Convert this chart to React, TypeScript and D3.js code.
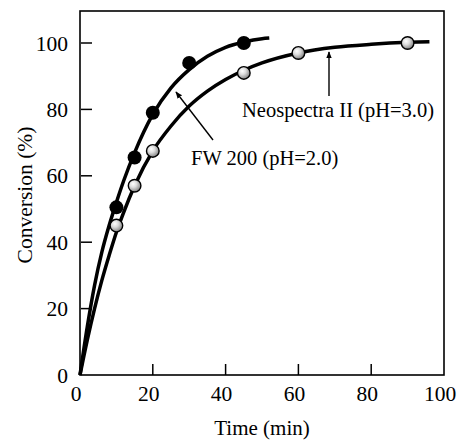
import React from "react";
import * as d3 from "d3";

const fwTime = [10, 15, 20, 30, 45];
const fwConv = [50.5, 65.5, 79, 94, 100];
const neoTime = [10, 15, 20, 45, 60, 90];
const neoConv = [45, 57, 67.5, 91, 97, 100];

// fitted curves
const fwCurveT = [0, 2, 4, 6, 8, 10, 12, 15, 20, 25, 30, 35, 40, 45, 50, 52];
const fwCurveY = [0, 14.5, 27, 37, 45, 52, 58.5, 67, 78.5, 86.5, 92, 96, 98.7, 100.3, 101.3, 101.5];
const neoCurveT = [0, 2, 4, 6, 8, 10, 12, 15, 20, 25, 30, 35, 40, 45, 50, 60, 70, 80, 90, 96];
const neoCurveY = [0, 10.5, 20, 28.5, 36, 43, 49, 57, 67.5, 75, 81, 85.5, 89, 91.8, 94, 97, 98.7, 99.6, 100.2, 100.4];

const xTicks = [0, 20, 40, 60, 80, 100];
const yTicks = [0, 20, 40, 60, 80, 100];

const FONT = "'Liberation Serif', 'Times New Roman', serif";

export default function App() {
  const x = d3.scaleLinear().domain([0, 100]).range([80, 444]);
  const y = d3.scaleLinear().domain([0, 100]).range([375, 43]);
  const top = 11;

  const line = d3
    .line<[number, number]>()
    .x((d) => x(d[0]))
    .y((d) => y(d[1]))
    .curve(d3.curveMonotoneX);

  const fwLine = line(fwCurveT.map((t, i) => [t, fwCurveY[i]]) as [number, number][]) || "";
  const neoLine = line(neoCurveT.map((t, i) => [t, neoCurveY[i]]) as [number, number][]) || "";

  return (
    <svg
      width={460}
      height={442}
      style={{ position: "absolute", left: 0, top: 0, background: "#fff" }}
      fontFamily={FONT}
    >
      <defs>
        <radialGradient id="hatch" cx="38%" cy="35%" r="70%">
          <stop offset="0%" stopColor="#ffffff" />
          <stop offset="40%" stopColor="#dcdcdc" />
          <stop offset="100%" stopColor="#7a7a7a" />
        </radialGradient>
        <marker id="arrow" viewBox="0 0 10 10" refX="9" refY="5" markerWidth="7" markerHeight="10" orient="auto" markerUnits="userSpaceOnUse">
          <path d="M0,1 L10,5 L0,9 z" fill="#000" />
        </marker>
      </defs>

      {/* frame */}
      <rect x={x(0)} y={top} width={x(100) - x(0)} height={y(0) - top} fill="none" stroke="#000" strokeWidth={1.6} />

      {/* y ticks */}
      {yTicks.map((t) => (
        <g key={"y" + t}>
          {t > 0 && <line x1={x(0) + 1} x2={x(0) + 12} y1={y(t)} y2={y(t)} stroke="#000" strokeWidth={1.5} />}
          <text x={68} y={y(t)} dy="0.35em" textAnchor="end" fontSize={21.5}>
            {t}
          </text>
        </g>
      ))}

      {/* x ticks */}
      {xTicks.map((t) => (
        <g key={"x" + t}>
          {t > 0 && t < 100 && <line x1={x(t)} x2={x(t)} y1={y(0)} y2={y(0) - 11} stroke="#000" strokeWidth={1.5} />}
          <text x={x(t) - 4} y={401} textAnchor="middle" fontSize={21.5}>
            {t}
          </text>
        </g>
      ))}

      <text x={262} y={435} textAnchor="middle" fontSize={21}>
        Time (min)
      </text>
      <text transform="translate(32,195) rotate(-90)" textAnchor="middle" fontSize={21.5}>
        Conversion (%)
      </text>

      {/* curves */}
      <path d={fwLine} fill="none" stroke="#000" strokeWidth={3.5} />
      <path d={neoLine} fill="none" stroke="#000" strokeWidth={3.5} />

      {/* points */}
      {fwTime.map((t, i) => (
        <circle key={"f" + i} cx={x(t)} cy={y(fwConv[i])} r={7} fill="#000" />
      ))}
      {neoTime.map((t, i) => (
        <circle key={"n" + i} cx={x(t)} cy={y(neoConv[i])} r={6.3} fill="url(#hatch)" stroke="#000" strokeWidth={1.4} />
      ))}

      {/* annotations */}
      <line x1={213} y1={140} x2={176} y2={92} stroke="#000" strokeWidth={1.4} markerEnd="url(#arrow)" />
      <text x={191} y={165} fontSize={20.5}>
        FW 200 (pH=2.0)
      </text>
      <line x1={329} y1={96} x2={329} y2={52} stroke="#000" strokeWidth={1.4} markerEnd="url(#arrow)" />
      <text x={242} y={117} fontSize={20.5}>
        Neospectra II (pH=3.0)
      </text>
    </svg>
  );
}
